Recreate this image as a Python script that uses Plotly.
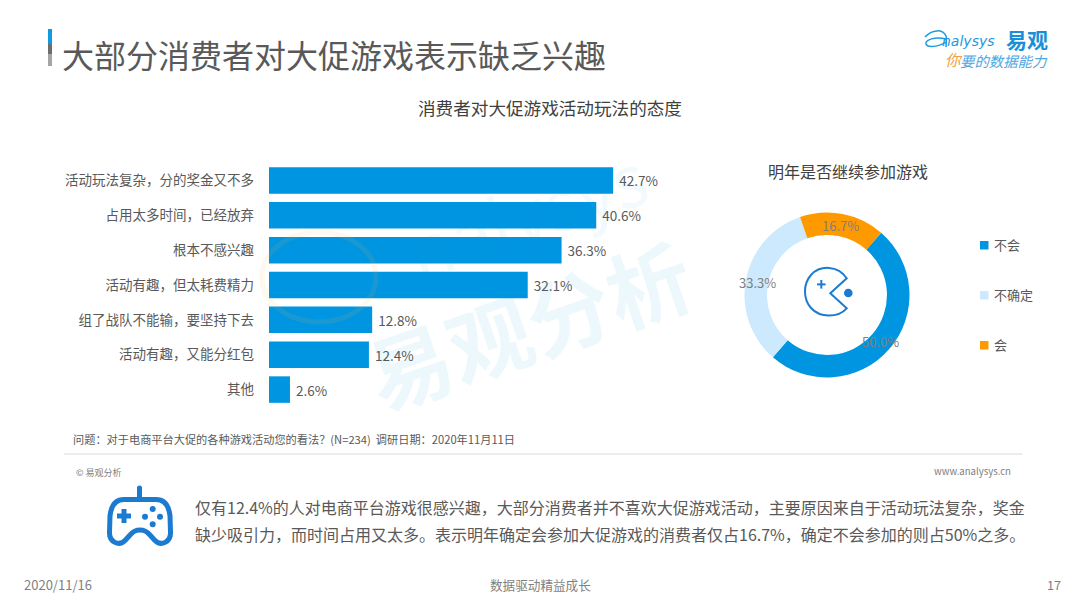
"""Slide: most consumers lack interest in shopping festival games."""

import plotly.graph_objects as go

W, H = 1080, 608
FONT = "Noto Sans CJK SC"

# bar chart data
categories = ["活动玩法复杂，分的奖金又不多", "占用太多时间，已经放弃", "根本不感兴趣",
              "活动有趣，但太耗费精力", "组了战队不能输，要坚持下去",
              "活动有趣，又能分红包", "其他"]
shares = [42.7, 40.6, 36.3, 32.1, 12.8, 12.4, 2.6]

# donut data
next_year_labels = ["不会", "不确定", "会"]
next_year_values = [50.0, 33.3, 16.7]
next_year_colors = ["#0095E0", "#CCE9FD", "#FF9900"]

BLUE = "#0095E0"
ICON = "#1B7BD0"


def fx(px):
    return px / W


def fy(py):
    return 1 - py / H


def path(*parts):
    """Build a paper-space svg path from pixel commands and (x, y) tuples."""
    out = []
    for part in parts:
        if isinstance(part, str):
            out.append(part)
        else:
            out.append(f"{fx(part[0]):.5f},{fy(part[1]):.5f}")
    return " ".join(out)


def label(x, y, text, size=13, color="#595959", anchor="left", angle=0, family=FONT):
    # annotations carry a little padding, so nudge left aligned text back
    shift = {"left": -1, "center": 0, "right": 2}[anchor]
    return dict(x=fx(x + shift), y=fy(y - 1), xref="paper", yref="paper", text=text, showarrow=False,
                xanchor=anchor, yanchor="middle", textangle=angle, borderpad=0,
                font=dict(family=family, size=size, color=color))


def rect(x0, y0, x1, y1, color):
    return dict(type="rect", xref="paper", yref="paper", x0=fx(x0), x1=fx(x1),
                y0=fy(y1), y1=fy(y0), fillcolor=color, line_width=0)


def dot(cx, cy, r, color):
    return dict(type="circle", xref="paper", yref="paper", x0=fx(cx - r), x1=fx(cx + r),
                y0=fy(cy + r), y1=fy(cy - r), fillcolor=color, line_width=0)


def stroke(d, color, width):
    return dict(type="path", xref="paper", yref="paper", path=d,
                line=dict(color=color, width=width))


fig = go.Figure()

fig.add_trace(go.Bar(
    x=shares,
    y=categories,
    orientation="h",
    marker=dict(color=BLUE, line_width=0),
    # the leading space pushes the labels away from the bar ends
    text=[f"\u00a0{v:.1f}%" for v in shares],
    textposition="outside",
    textfont=dict(family=FONT, size=13.5, color="#595959"),
    cliponaxis=False,
    showlegend=False,
))

fig.add_trace(go.Pie(
    labels=next_year_labels,
    values=next_year_values,
    hole=0.727,
    sort=False,
    direction="clockwise",
    rotation=41,
    marker=dict(colors=next_year_colors, line_width=0),
    textinfo="none",
    showlegend=False,
    domain=dict(x=[fx(827 - 82.5), fx(827 + 82.5)], y=[fy(295 + 82.5), fy(295 - 82.5)]),
))

shapes = [
    # title accent
    rect(48, 29, 52, 44, "#0E9BE2"),
    rect(48, 44, 52, 54, "#6E6E6E"),
    rect(48, 54, 52, 66, "#A6A6A6"),
    # footer rule
    dict(type="line", xref="paper", yref="paper", x0=fx(64), x1=fx(1022), y0=fy(454), y1=fy(454),
         line=dict(color="#D9D9D9", width=1)),
    # faint watermark logo ring
    dict(type="circle", xref="paper", yref="paper", x0=fx(262), x1=fx(376), y0=fy(322), y1=fy(232),
         fillcolor="rgba(0,0,0,0)", line=dict(color="rgba(250,190,80,0.10)", width=5)),
    # logo swoosh
    stroke(path("M", (925, 37), "C", (932, 29), (943, 29), (946, 36), "C", (947, 40), (946, 44), (946, 47)),
           "#1E9BE0", 1.5),
    stroke(path("M", (946, 39), "C", (935, 36), (925, 40), (926, 44), "C", (927, 48), (939, 47), (946, 42)),
           "#1E9BE0", 1.5),
    # pacman icon
    stroke(path("M", (846.7, 278.3), "C", (838, 265), (820, 265), (811, 275),
                "C", (803, 284), (803, 299), (811, 308),
                "C", (820, 318), (838, 318), (846.7, 308.3), "L", (830.3, 293.3), "Z"), ICON, 2),
    rect(817, 283.4, 825.6, 285.4, ICON),
    rect(820.3, 280, 822.3, 288.6, ICON),
    dot(848.3, 293, 4.3, ICON),
    # gamepad icon
    rect(137, 487, 142, 498, ICON),
    dot(139.5, 488, 2.5, ICON),
    stroke(path("M", (124, 499.5), "L", (156, 499.5), "C", (165, 499.5), (169, 507), (170, 516),
                "L", (170.5, 532), "C", (171, 542), (161, 547), (154.5, 540),
                "L", (150, 535), "C", (147, 531.5), (145, 530), (140, 530),
                "C", (135, 530), (133, 531.5), (130, 535), "L", (125.5, 540),
                "C", (119, 547), (109, 542), (109.5, 532), "L", (110, 516),
                "C", (111, 507), (115, 499.5), (124, 499.5), "Z"), ICON, 5),
    rect(117, 513.5, 131, 518.5, ICON),
    rect(121.5, 509, 126.5, 523, ICON),
    dot(152.7, 509, 3, ICON),
    dot(145, 516.7, 3, ICON),
    dot(160, 516.7, 3, ICON),
    dot(152.7, 524.3, 3, ICON),
]

# custom legend with wide spacing
legend_ys = [245, 295, 345]
for name, color, ly in zip(next_year_labels, next_year_colors, legend_ys):
    shapes.append(rect(980, ly - 4, 988.5, ly + 4.5, color))

label_spots = [(880, 342), (757, 283), (840, 226)]
annotations = [
    # watermark
    label(528, 323, "<b>易观分析</b>", 84, "rgba(0,149,224,0.07)", "center", -19),
    label(525, 212, "nalysys", 72, "rgba(0,149,224,0.05)", "center", -19),
    # headings
    label(62, 55, "大部分消费者对大促游戏表示缺乏兴趣", 32, "#595959"),
    label(418, 108, "消费者对大促游戏活动玩法的态度", 17.6, "#404040"),
    label(768, 172, "明年是否继续参加游戏", 16, "#404040"),
    # logo
    label(942, 42, "<i>nalysys</i>", 14, "#1E9BE0", family="DejaVu Sans"),
    label(1006, 40, "<b>易观</b>", 21, "#1A8FD8"),
    label(945, 60, "<i>你</i>", 15.5, "#F0A040"),
    label(960, 62, "<i>要的数据能力</i>", 14.4, "#4DA8E0"),
    # notes
    label(73, 440, "问题：对于电商平台大促的各种游戏活动您的看法？(N=234)  调研日期：2020年11月11日", 11.2, "#595959"),
    label(76, 473, "© 易观分析", 9, "#808080"),
    label(1010, 472, "www.analysys.cn", 9.6, "#808080", "right"),
    # summary
    label(195, 508, "仅有12.4%的人对电商平台游戏很感兴趣，大部分消费者并不喜欢大促游戏活动，主要原因来自于活动玩法复杂，奖金", 16),
    label(195, 535, "缺少吸引力，而时间占用又太多。表示明年确定会参加大促游戏的消费者仅占16.7%，确定不会参加的则占50%之多。", 16),
    # footer
    label(24, 585, "2020/11/16", 13, "#7F7F7F"),
    label(540, 585, "数据驱动精益成长", 12.6, "#7F7F7F", "center"),
    label(1060, 585, "17", 12.6, "#7F7F7F", "right"),
]
for value, (lx, ly) in zip(next_year_values, label_spots):
    annotations.append(label(lx, ly, f"{value:.1f}%", 13, "#7F7F7F", "center"))
for name, ly in zip(next_year_labels, legend_ys):
    annotations.append(label(994, ly, name, 13))

fig.update_layout(
    width=W,
    height=H,
    margin=dict(l=0, r=0, t=0, b=0),
    paper_bgcolor="#FFFFFF",
    plot_bgcolor="rgba(0,0,0,0)",
    bargap=0.24,
    font=dict(family=FONT),
    shapes=shapes,
    annotations=annotations,
    xaxis=dict(domain=[fx(269), fx(269 + 50 * 8.06)], range=[0, 50], visible=False),
    yaxis=dict(domain=[fy(407), fy(163)], autorange="reversed", showline=False, showgrid=False,
               ticks="", ticklabelstandoff=14,
               tickfont=dict(family=FONT, size=13.5, color="#595959")),
)

fig.write_html("out.html", config=dict(displayModeBar=False),
               post_script="document.body.style.margin='0';")
